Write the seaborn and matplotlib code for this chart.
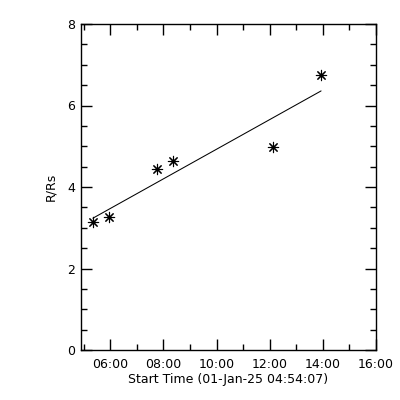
import matplotlib
matplotlib.use("Agg")
import matplotlib.pyplot as plt
import matplotlib.dates as mdates
from matplotlib.ticker import MultipleLocator
import seaborn as sns
import pandas as pd
import numpy as np

# Data
times = ["2025-01-01 05:21", "2025-01-01 05:58", "2025-01-01 07:46",
         "2025-01-01 08:22", "2025-01-01 12:08", "2025-01-01 13:56"]
radius = [3.13, 3.27, 4.44, 4.64, 4.97, 6.75]
start_time = "2025-01-01 04:54:07"
end_time = "2025-01-01 16:00:00"
xlabel = "Start Time (01-Jan-25 04:54:07)"
ylabel = "R/Rs"

sns.set_theme(style="ticks")
plt.rcParams['font.family'] = ['DejaVu Sans']

df = pd.DataFrame({"t": pd.to_datetime(times), "r": radius})
df["x"] = mdates.date2num(df["t"])

fig = plt.figure(figsize=(4, 4), dpi=100)
ax = fig.add_axes([0.2025, 0.125, 0.7375, 0.815])

sns.regplot(data=df, x="x", y="r", ax=ax, ci=None, truncate=True,
            scatter=False, line_kws=dict(color="black", lw=0.75))
sns.scatterplot(data=df, x="x", y="r", ax=ax, marker=(8, 2, 0), s=55,
                color="black", linewidth=0.8, edgecolor="black")

ax.set_xlim(mdates.date2num(pd.Timestamp(start_time)),
            mdates.date2num(pd.Timestamp(end_time)))
ax.set_ylim(0, 8)
ax.xaxis.set_major_locator(mdates.HourLocator(byhour=range(6, 17, 2)))
ax.xaxis.set_minor_locator(mdates.HourLocator())
ax.xaxis.set_major_formatter(mdates.DateFormatter("%H:%M"))
ax.yaxis.set_major_locator(MultipleLocator(2))
ax.yaxis.set_minor_locator(MultipleLocator(0.5))
ax.yaxis.set_major_formatter(matplotlib.ticker.FormatStrFormatter("%d"))

ax.tick_params(which="both", direction="in", top=True, right=True,
               color="black", width=1.0, labelsize=9, labelcolor="black")
ax.tick_params(which="major", length=8)
ax.tick_params(axis="x", which="major", pad=6)
ax.tick_params(axis="y", which="major", pad=4)
ax.tick_params(which="minor", length=4)
for s in ax.spines.values():
    s.set_visible(True)
    s.set_color("black")
    s.set_linewidth(1.0)

ax.set_xlabel(xlabel, fontsize=9, color="black", labelpad=1)
ax.set_ylabel(ylabel, fontsize=9, color="black", labelpad=7)
ax.grid(False)

fig.savefig("out.png", dpi=100, facecolor="white")
